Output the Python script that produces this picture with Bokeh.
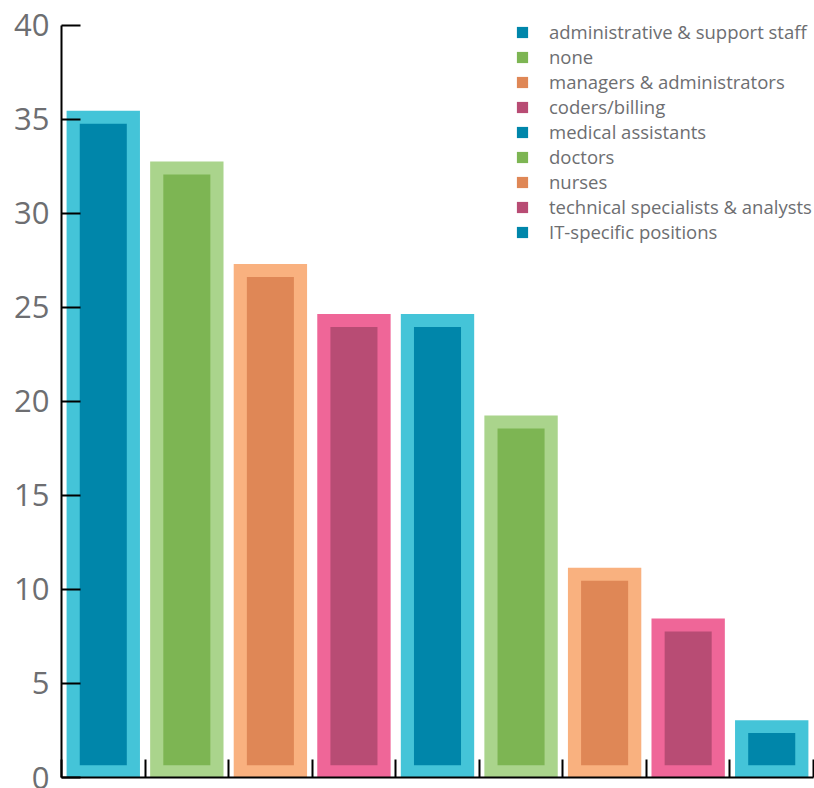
from bokeh.plotting import figure
from bokeh.models import Range1d, FixedTicker, Legend, LegendItem, ColumnDataSource
from bokeh.embed import file_html
from bokeh.resources import INLINE

categories = ["administrative & support staff", "none", "managers & administrators",
              "coders/billing", "medical assistants", "doctors", "nurses",
              "technical specialists & analysts", "IT-specific positions"]
values = [35.45, 32.75, 27.3, 24.65, 24.65, 19.25, 11.15, 8.45, 3.05]
outer_colors = ["#44C4D8", "#AAD48C", "#F9B17F", "#EF6698"]
inner_colors = ["#0086AA", "#7DB553", "#DF8756", "#B84C74"]
y_ticks = [0, 5, 10, 15, 20, 25, 30, 35, 40]

FONT = "Open Sans"
GRAY = "#6D6E71"

# y range a little above 40 so the legend has room; axis line bounded to 0..40
p = figure(width=814, height=788, output_backend="svg", toolbar_location=None,
           x_range=Range1d(0, len(categories)), y_range=Range1d(0, 41.05),
           min_border_left=61, min_border_right=1, min_border_top=5, min_border_bottom=11)
p.grid.visible = False
p.outline_line_color = None
p.background_fill_color = "white"
p.border_fill_color = "white"

inset_y = 0.69
inner_bottom = 0.65

items = []
for i, (cat, v) in enumerate(zip(categories, values)):
    xc = i + 0.5
    src = ColumnDataSource(dict(x=[xc], top=[v], inner_top=[v - inset_y]))
    p.vbar(x="x", top="top", bottom=0, width=0.878, source=src,
           fill_color=outer_colors[i % 4], line_color=None)
    r = p.vbar(x="x", top="inner_top", bottom=inner_bottom, width=0.563, source=src,
               fill_color=inner_colors[i % 4], line_color=None)
    items.append(LegendItem(label=cat, renderers=[r]))

legend = Legend(items=items, location=(454, 533), orientation="vertical",
                glyph_width=14, glyph_height=14, label_height=14, spacing=0,
                label_standoff=20, padding=0, margin=0,
                label_text_font=FONT, label_text_font_size="18.5px",
                label_text_color=GRAY, background_fill_alpha=0, border_line_color=None)
p.add_layout(legend)

ya = p.yaxis[0]
ya.ticker = FixedTicker(ticks=y_ticks)
ya.bounds = (0, 40)
ya.major_tick_in = 19
ya.major_tick_out = 0
ya.minor_tick_line_color = None
ya.axis_line_width = 2
ya.major_tick_line_width = 2
ya.axis_line_color = "black"
ya.major_tick_line_color = "black"
ya.major_label_text_font = FONT
ya.major_label_text_font_size = "31px"
ya.major_label_text_color = GRAY
ya.major_label_standoff = 12

xa = p.xaxis[0]
x_bounds = list(range(len(categories) + 1))
xa.ticker = FixedTicker(ticks=x_bounds)
xa.major_label_overrides = {b: "" for b in x_bounds}
xa.major_tick_in = 18
xa.major_tick_out = 0
xa.minor_tick_line_color = None
xa.axis_line_width = 2
xa.major_tick_line_width = 2
xa.axis_line_color = "black"
xa.major_tick_line_color = "black"
xa.major_label_standoff = 0

open("out.html", "w").write(file_html(p, INLINE))
